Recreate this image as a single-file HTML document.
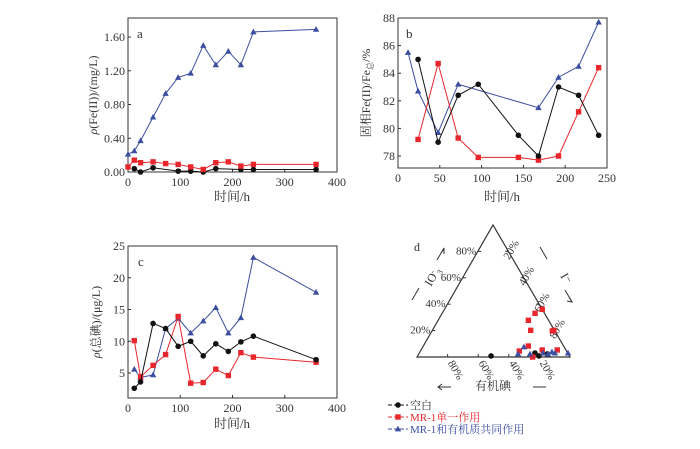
<!DOCTYPE html>
<html><head><meta charset="utf-8"><style>
html,body{margin:0;padding:0;background:#fff}
svg{display:block}
text{font-family:"Liberation Serif","Noto Serif CJK SC",serif;fill:#333}
</style></head><body>
<svg id="s" width="700" height="449" viewBox="0 0 700 449" xmlns="http://www.w3.org/2000/svg"></svg>
<script>
// ---- Chart a data ----
const aTimesBlue=[0,12,24,48,72,96,120,144,168,192,216,240,360];
const aBlue=[0.21,0.25,0.37,0.65,0.93,1.12,1.17,1.50,1.27,1.43,1.27,1.66,1.69];
const aTimesRed=[0,12,24,48,72,96,120,144,168,192,216,240,360];
const aRed=[0.06,0.14,0.11,0.12,0.10,0.09,0.06,0.03,0.11,0.12,0.07,0.09,0.09];
const aTimesBlack=[12,24,48,96,120,144,168,216,240,360];
const aBlack=[0.04,0.0,0.05,0.01,0.01,0.0,0.04,0.03,0.03,0.03];
const aYTicks=[0,0.4,0.8,1.2,1.6];
const aYTickLabels=["0.00","0.40","0.80","1.20","1.60"];
const xTicks400=[0,100,200,300,400];
// ---- Chart b data ----
const bTimesBlue=[12,24,48,72,168,192,216,240];
const bBlue=[85.5,82.7,79.7,83.2,81.5,83.7,84.5,87.7];
const bTimesBlack=[24,48,72,96,144,168,192,216,240];
const bBlack=[85,79,82.4,83.2,79.5,78,83,82.4,79.5];
const bTimesRed=[24,48,72,96,144,168,192,216,240];
const bRed=[79.2,84.7,79.3,77.9,77.9,77.7,78,81.2,84.4];
const bYTicks=[78,80,82,84,86,88];
const bXTicks=[0,50,100,150,200,250];
// ---- Chart c data ----
const cTimes=[12,24,48,72,96,120,144,168,192,216,240,360];
const cBlue=[5.6,4.3,4.7,12,13.6,11.3,13.2,15.3,11.3,13.7,23.2,17.7];
const cBlack=[2.6,3.6,12.8,12,9.2,10,7.7,9.6,8.4,9.9,10.8,7.1];
const cRed=[10.1,4.4,6.2,7.9,13.9,3.4,3.5,5.6,4.6,8.2,7.5,6.7];
const cYTicks=[5,10,15,20,25];
// ---- Chart d data (fractions: iodide I, iodate IO3) ----
const dRedI=[0.589,0.606,0.638,0.642,0.786,0.794,0.686,0.646,0.792,0.89,0.756];
const dRedIO3=[0.278,0.331,0.361,0.202,0.197,0.202,0.083,0.045,0.053,0.053,0.0];
const dBlueI=[0.661,0.649,0.727,0.809,0.863,0.887,0.972,0.845];
const dBlueIO3=[0.076,0.023,0.023,0.03,0.038,0.03,0.03,0.023];
const dBlackI=[0.48,0.756,0.793,0.84];
const dBlackIO3=[0.008,0.03,0.008,0.023];

const NS="http://www.w3.org/2000/svg";
const svg=document.getElementById('s');
function mk(tag,attrs,parent,txt){const e=document.createElementNS(NS,tag);for(const k in attrs)e.setAttribute(k,attrs[k]);if(txt!==undefined)e.textContent=txt;(parent||svg).appendChild(e);return e;}
const C={blue:"#3b4ea0",red:"#e8262b",black:"#111"};

function marker(g,type,x,y,col){
  let m;
  if(type==='c'){m=mk('circle',{cx:x,cy:y,r:2.8,fill:col},g);}
  else if(type==='s'){m=mk('rect',{x:x-2.7,y:y-2.7,width:5.4,height:5.4,fill:col},g);}
  else {m=mk('path',{d:`M${x},${y-3.3}L${x+3.2},${y+2.4}L${x-3.2},${y+2.4}Z`,fill:col},g);}
  
  
}
function series(g,xs,ys,sx,sy,col,type,name){
  const sg=mk('g',{},g);
  
  
  const pts=xs.map((x,i)=>sx(x)+','+sy(ys[i])).join(' ');
  mk('polyline',{points:pts,fill:'none',stroke:col,'stroke-width':1},sg);
  xs.forEach((x,i)=>marker(sg,type,sx(x),sy(ys[i]),col));
}
function axes(g,L,R,T,B,sx,sy,xt,yt,ylab,xfmt){
  const f=mk('rect',{x:L,y:T,width:R-L,height:B-T,fill:'none',stroke:'#333','stroke-width':1},g);
  
  xt.forEach(v=>{const x=sx(v);mk('line',{x1:x,y1:B,x2:x,y2:B-3,stroke:'#333'},g);
    const t=mk('text',{x:x,y:B+14,'font-size':12,'text-anchor':'middle'},g,String(v));
    });
  yt.forEach((v,i)=>{const y=sy(v);mk('line',{x1:L,y1:y,x2:L+3,y2:y,stroke:'#333'},g);
    const t=mk('text',{x:L-3,y:y+4,'font-size':12,'text-anchor':'end'},g,ylab?ylab[i]:String(v));
    });
}
function lin(d0,d1,p0,p1){return v=>p0+(v-d0)/(d1-d0)*(p1-p0);}

// Chart a
{const g=mk('g',{});
 const L=128,R=337,T=18,B=172;const sx=lin(0,400,L,R),sy=lin(0,1.6,B,37);
 axes(g,L,R,T,B,sx,sy,xTicks400,aYTicks,aYTickLabels);
 series(g,aTimesBlack,aBlack,sx,sy,C.black,'c','series-blank');
 series(g,aTimesRed,aRed,sx,sy,C.red,'s','series-mr1');
 series(g,aTimesBlue,aBlue,sx,sy,C.blue,'t','series-mr1-organic');
 let t=mk('text',{x:137,y:38,'font-size':13},g,'a');
 t=mk('text',{x:232,y:201,'font-size':13,'text-anchor':'middle'},g,'时间/h');
 t=mk('text',{x:0,y:0,'font-size':12,'text-anchor':'middle',transform:'translate(97,95) rotate(-90)'},g);t.innerHTML='<tspan font-style="italic">ρ</tspan>(Fe(II))/(mg/L)';}

// Chart b
{const g=mk('g',{});
 const L=398,R=607,T=18,B=168;const sx=lin(0,250,L,R),sy=lin(78,88,156,18);
 axes(g,L,R,T,B,sx,sy,bXTicks,bYTicks);
 series(g,bTimesBlue,bBlue,sx,sy,C.blue,'t','series-mr1-organic');
 series(g,bTimesRed,bRed,sx,sy,C.red,'s','series-mr1');
 series(g,bTimesBlack,bBlack,sx,sy,C.black,'c','series-blank');
 let t=mk('text',{x:406,y:38,'font-size':13},g,'b');
 t=mk('text',{x:502,y:201,'font-size':13,'text-anchor':'middle'},g,'时间/h');
 t=mk('text',{x:0,y:0,'font-size':12,'text-anchor':'middle',transform:'translate(370,93) rotate(-90)'},g);t.innerHTML='固相Fe(II)/Fe<tspan font-size="8" dy="3">总</tspan><tspan dy="-3">/%</tspan>';}

// Chart c
{const g=mk('g',{});
 const L=128,R=337,T=246,B=398;const sx=lin(0,400,L,R),sy=lin(5,25,373,246);
 axes(g,L,R,T,B,sx,sy,xTicks400,cYTicks);
 series(g,cTimes,cBlue,sx,sy,C.blue,'t','series-mr1-organic');
 series(g,cTimes,cRed,sx,sy,C.red,'s','series-mr1');
 series(g,cTimes,cBlack,sx,sy,C.black,'c','series-blank');
 let t=mk('text',{x:138,y:266,'font-size':13},g,'c');
 t=mk('text',{x:232,y:428,'font-size':13,'text-anchor':'middle'},g,'时间/h');
 t=mk('text',{x:0,y:0,'font-size':12,'text-anchor':'middle',transform:'translate(100,322) rotate(-90)'},g);t.innerHTML='<tspan font-style="italic">ρ</tspan>(总碘)/(μg/L)';}

// Chart d ternary
{const g=mk('g',{});
 const xl=417,xr=570,yb=357,ax=493,yt=225,W=xr-xl,H=yb-yt;
 const px=(I,O)=>xl+(I+O/2)*W, py=(I,O)=>yb-O*H;
 const tri=mk('path',{d:`M${xl},${yb}L${ax},${yt}L${xr},${yb}Z`,fill:'none',stroke:'#333','stroke-width':1.2},g);
 
 for(let k=1;k<5;k++){const f=k*0.2;
   mk('line',{x1:xl+f*W,y1:yb,x2:xl+f*W,y2:yb-3,stroke:'#333'},g);
   mk('line',{x1:xl+f*W/2,y1:yb-f*H,x2:xl+f*W/2+3,y2:yb-f*H,stroke:'#333'},g);
   mk('line',{x1:ax+f*W/2,y1:yt+f*H,x2:ax+f*W/2-3,y2:yt+f*H,stroke:'#333'},g);
   // left labels IO3
   let t=mk('text',{x:xl+f*W/2-2,y:yb-f*H+3,'font-size':11,'text-anchor':'end'},g,(k*20)+'%');
   // right labels I
   const rx=ax+f*W/2+6,ry=yt+f*H;
   t=mk('text',{x:rx,y:ry,'font-size':11,transform:`rotate(-60 ${rx} ${ry})`,'text-anchor':'middle'},g,(k*20)+'%');
   // bottom labels organic
   const bx=xr-f*W,by=yb+6;
   t=mk('text',{x:bx,y:by,'font-size':11,transform:`rotate(60 ${bx} ${by})`},g,(k*20)+'%');
 }
 dBlackI.forEach((I,i)=>marker(g,'c',px(I,dBlackIO3[i]),py(I,dBlackIO3[i]),C.black));
 dRedI.forEach((I,i)=>marker(g,'s',px(I,dRedIO3[i]),py(I,dRedIO3[i]),C.red));
 dBlueI.forEach((I,i)=>marker(g,'t',px(I,dBlueIO3[i]),py(I,dBlueIO3[i]),C.blue));
 let t=mk('text',{x:414,y:251,'font-size':12},g,'d');
 t=mk('text',{x:0,y:0,'font-size':12,transform:'translate(431,287) rotate(-60)'},g);t.innerHTML='IO<tspan font-size="8" dy="-4">-</tspan><tspan font-size="8" dy="7">3</tspan>';
 mk('line',{x1:412,y1:300,x2:419,y2:288,stroke:'#333'},g);
 mk('line',{x1:437,y1:260,x2:444,y2:248,stroke:'#333'},g);
 mk('path',{d:'M441,253l3,-4l0,5',fill:'none',stroke:'#333'},g);
 t=mk('text',{x:0,y:0,'font-size':12,transform:'translate(560,276) rotate(60)'},g,'I⁻');
 mk('line',{x1:540,y1:247,x2:547,y2:259,stroke:'#333'},g);
 mk('line',{x1:565,y1:290,x2:572,y2:302,stroke:'#333'},g);
 mk('path',{d:'M569,297l3,5l-5,-1',fill:'none',stroke:'#333'},g);
 t=mk('text',{x:493,y:390,'font-size':12,'text-anchor':'middle'},g,'有机碘');
 mk('line',{x1:438,y1:387,x2:451,y2:387,stroke:'#333'},g);
 mk('path',{d:'M442,384l-4,3l4,3',fill:'none',stroke:'#333'},g);
 mk('line',{x1:533,y1:387,x2:546,y2:387,stroke:'#333'},g);
 // legend
 const lg=mk('g',{},g);
 const items=[['空白',C.black,'c','#333'],['MR-1单一作用',C.red,'s',C.red],['MR-1和有机质共同作用',C.blue,'t',C.blue]];
 items.forEach((it,i)=>{const y=405+i*12;const eg=mk('g',{},lg);
   
   mk('line',{x1:388,y1:y,x2:408,y2:y,stroke:it[1],'stroke-dasharray':'4,2'},eg);
   marker(eg,it[2],398,y,it[1]);
   const tt=mk('text',{x:410,y:y+4,'font-size':11},eg,it[0]);tt.style.fill=it[3];});
}
</script>
</body></html>
